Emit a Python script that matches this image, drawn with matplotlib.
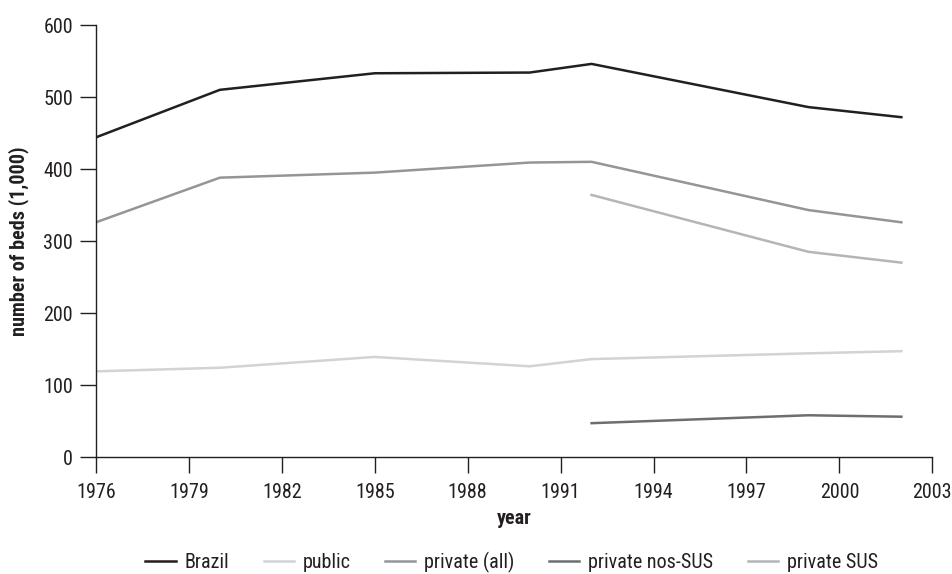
import matplotlib
matplotlib.use("Agg")
import matplotlib.pyplot as plt
from matplotlib import font_manager

# pick a condensed sans font if available
cands = []
for f in font_manager.fontManager.ttflist:
    n = f.name.lower()
    p = f.fname.lower()
    if ("narrow" in n or "condensed" in n or "condensed" in p or "narrow" in p or f.stretch in ("condensed", "semi-condensed")) and f.style == "normal":
        cands.append(f)

def pick(weight_bold):
    pref = ["liberation sans narrow", "roboto condensed", "open sans condensed", "dejavu sans condensed", "dejavu sans"]
    best = None
    for pr in pref:
        for f in cands:
            key = (f.name + " " + f.fname).lower()
            isbold = (f.weight in ("bold", 700) or "bold" in f.fname.lower())
            if (pr in key or pr.replace(" ", "") in key) and isbold == weight_bold and "mono" not in key and "serif" not in key.replace("sans", ""):
                best = f.fname
                break
        if best:
            break
    return best

reg_file = pick(False)
bold_file = pick(True)
if reg_file:
    fp = font_manager.FontProperties(fname=reg_file)
else:
    fp = font_manager.FontProperties(family="DejaVu Sans")
if bold_file:
    fpb = font_manager.FontProperties(fname=bold_file)
else:
    fpb = font_manager.FontProperties(family="DejaVu Sans", weight="bold")

years_all = [1976, 1980, 1985, 1990, 1992, 1999, 2002]
years_late = [1992, 1999, 2002]
brazil = [444, 510, 533, 534, 546, 486, 472]
public = [119, 124, 139, 126, 136, 144, 147]
private_all = [326, 388, 395, 409, 410, 343, 326]
private_nos_sus = [47, 58, 56]
private_sus = [364, 285, 270]

xticks = [1976, 1979, 1982, 1985, 1988, 1991, 1994, 1997, 2000, 2003]
yticks = [0, 100, 200, 300, 400, 500, 600]

fig = plt.figure(figsize=(9.53, 5.74), dpi=100)
ax = fig.add_axes([0.1007, 0.2038, 0.8776, 0.7526])

lw = 1.8
ax.plot(years_all, brazil, color="#231f20", lw=lw, label="Brazil")
ax.plot(years_all, public, color="#d1d3d4", lw=lw, label="public")
ax.plot(years_all, private_all, color="#939598", lw=lw, label="private (all)")
ax.plot(years_late, private_nos_sus, color="#6d6e71", lw=lw, label="private nos-SUS")
ax.plot(years_late, private_sus, color="#b3b5b7", lw=lw, label="private SUS")

ax.set_xlim(1976, 2003)
ax.set_ylim(0, 600)
ax.set_xticks(xticks)
ax.set_yticks(yticks)
for s in ["top", "right"]:
    ax.spines[s].set_visible(False)
for s in ["left", "bottom"]:
    ax.spines[s].set_color("#231f20")
    ax.spines[s].set_linewidth(1.0)
ax.tick_params(axis="both", direction="out", length=11.5, width=1.0, color="#231f20",
               labelcolor="#231f20")
ax.tick_params(axis="x", pad=7)
ax.tick_params(axis="y", pad=5)
fs = 14.5
for lab in ax.get_xticklabels() + ax.get_yticklabels():
    lab.set_fontproperties(fp)
    lab.set_fontsize(fs)

ax.set_xlabel("year", fontproperties=fpb, fontsize=fs, color="#231f20", labelpad=5)
ax.set_ylabel("number of beds (1,000)", fontproperties=fpb, fontsize=fs, color="#231f20", labelpad=10)

lp = fp.copy()
lp.set_size(fs)
leg = fig.legend(loc="lower center", bbox_to_anchor=(0.537, -0.012), ncol=5, frameon=False,
                 prop=lp, handlelength=1.5, handletextpad=0.45, columnspacing=1.7,
                 borderaxespad=0.0)
for t in leg.get_texts():
    t.set_color("#231f20")

fig.savefig("out.png", dpi=100)
